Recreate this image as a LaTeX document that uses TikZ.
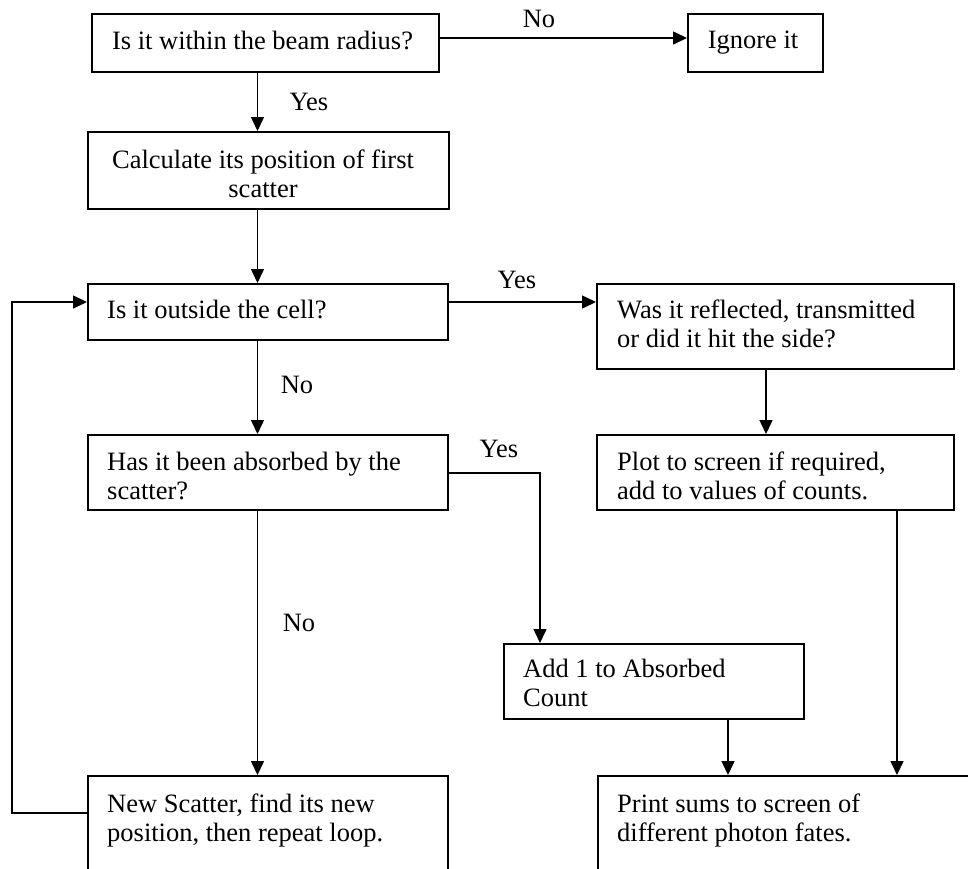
\documentclass[tikz,border=0pt]{standalone}
\usepackage{fontspec}
\setmainfont{Liberation Serif}
\usetikzlibrary{arrows.meta,calc}
\begin{document}
\begin{tikzpicture}[x=1pt,y=-1pt,
  box/.style={draw, line width=1.8pt, rectangle, inner sep=0pt, anchor=north west},
  txt/.style={inner sep=0pt, font=\fontsize{26.5}{29.5}\selectfont},
  arr/.style={line width=1.5pt, -{Triangle[length=14pt,width=13pt]}}]
\useasboundingbox (0,0) rectangle (968,868);
\fill[white] (0,0) rectangle (968,868);
\clip (0,0) rectangle (968,868);

% boxes
\node[box, minimum width=347pt, minimum height=58pt] (beam) at (91,13) {};
\node[box, minimum width=135pt, minimum height=58pt] (ignore) at (687,13) {};
\node[box, minimum width=361pt, minimum height=77pt] (calc) at (87,131) {};
\node[box, minimum width=360pt, minimum height=56pt] (outside) at (87,283) {};
\node[box, minimum width=357pt, minimum height=85pt] (refl) at (596,283) {};
\node[box, minimum width=360pt, minimum height=75pt] (absorbed) at (87,434) {};
\node[box, minimum width=357pt, minimum height=75pt] (plot) at (596,434) {};
\node[box, minimum width=300pt, minimum height=75pt] (add) at (503,643) {};
\node[box, minimum width=360pt, minimum height=130pt] (newsc) at (87,775) {};
\node[box, minimum width=410pt, minimum height=130pt] (print) at (597,775) {};

% box texts
\node[txt, anchor=base] (tbeam) at (262.5,49) {Is it within the beam radius?};
\node[txt, anchor=base] (tignore) at (753,48) {Ignore it};
\node[txt, anchor=base] (tcalc) at (263,168) {\begin{tabular}[t]{@{}c@{}}Calculate its position of first\\ scatter\end{tabular}};
\node[txt, anchor=base west] (toutside) at (107,318) {Is it outside the cell?};
\node[txt, anchor=base west] (trefl) at (617,318) {\begin{tabular}[t]{@{}l@{}}Was it reflected, transmitted\\ or did it hit the side?\end{tabular}};
\node[txt, anchor=base west] (tabs) at (107,470) {\begin{tabular}[t]{@{}l@{}}Has it been absorbed by the\\ scatter?\end{tabular}};
\node[txt, anchor=base west] (tplot) at (617,470) {\begin{tabular}[t]{@{}l@{}}Plot to screen if required,\\ add to values of counts.\end{tabular}};
\begin{scope}
  \clip (504,644) rectangle (802,706);
  \node[txt, anchor=base west] (tadd) at (523,677) {\begin{tabular}[t]{@{}l@{}}Add 1 to Absorbed\\ Count\end{tabular}};
\end{scope}
\node[txt, anchor=base west] (tnew) at (107,812) {\begin{tabular}[t]{@{}l@{}}New Scatter, find its new\\ position, then repeat loop.\end{tabular}};
\node[txt, anchor=base west] (tprint) at (617,812) {\begin{tabular}[t]{@{}l@{}}Print sums to screen of\\ different photon fates.\end{tabular}};

% helper coordinates
\coordinate (colA) at (257.5,0);
\coordinate (rowA) at (0,38);
\coordinate (rowB) at (0,302);
\coordinate (rowC) at (0,473);
\coordinate (colR) at (766,0);
\coordinate (colM) at (540,0);
\coordinate (colD) at (728,0);
\coordinate (colP) at (897,0);
\coordinate (loopx) at (12,813);

% connectors
\draw[arr] (beam.east |- rowA) -- (ignore.west |- rowA);
\draw[arr] (beam.south -| colA) -- (calc.north -| colA);
\draw[arr] (calc.south -| colA) -- (outside.north -| colA);
\draw[arr] (outside.east |- rowB) -- (refl.west |- rowB);
\draw[arr] (outside.south -| colA) -- (absorbed.north -| colA);
\draw[arr] (refl.south -| colR) -- (plot.north -| colR);
\draw[arr] (absorbed.east |- rowC) -| (add.north -| colM);
\draw[arr] (absorbed.south -| colA) -- (newsc.north -| colA);
\draw[arr] (add.south -| colD) -- (print.north -| colD);
\draw[arr] (plot.south -| colP) -- (print.north -| colP);
\draw[arr] (newsc.west |- loopx) -| (loopx |- rowB) -- (outside.west |- rowB);

% labels
\node[txt, anchor=base] (lno1) at (539,27) {No};
\node[txt, anchor=base] (lyes1) at (309,110) {Yes};
\node[txt, anchor=base] (lyes2) at (517,288) {Yes};
\node[txt, anchor=base] (lno2) at (297,393) {No};
\node[txt, anchor=base] (lyes3) at (499,457) {Yes};
\node[txt, anchor=base] (lno3) at (299,631) {No};
\end{tikzpicture}
\end{document}
